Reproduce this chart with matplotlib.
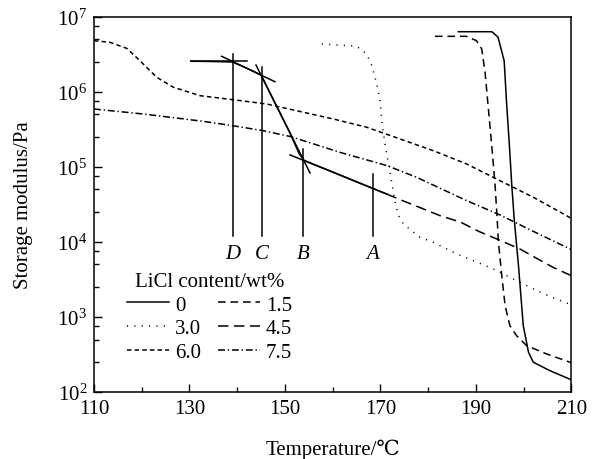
import matplotlib
matplotlib.use("Agg")
import matplotlib.pyplot as plt
from matplotlib.ticker import LogLocator, FixedLocator, NullFormatter
from matplotlib.lines import Line2D

plt.rcParams['font.family'] = ['Liberation Serif', 'DejaVu Serif']
plt.rcParams['mathtext.fontset'] = 'custom'
plt.rcParams['mathtext.rm'] = 'Liberation Serif'
plt.rcParams['mathtext.it'] = 'Liberation Serif:italic'
plt.rcParams['lines.scale_dashes'] = False

# ---------------- data ----------------
T_00 = [186.3, 193.3, 194.6, 195.9, 196.4, 197.0, 197.5, 198.0, 198.9, 199.9, 201.0, 202.0, 205.5, 210.0]
G_00 = [6.31e6, 6.31e6, 5.37e6, 2.59e6, 7.24e5, 1.91e5, 5.62e4, 2.02e4, 4.82e3, 764, 338, 249, 192, 145]

T_15 = [181.4, 188.0, 190.1, 191.2, 191.9, 192.6, 193.3, 194.0, 194.4, 194.7, 195.4, 196.1, 197.1, 198.5, 200.6, 204.8, 210.0]
G_15 = [5.48e6, 5.48e6, 4.79e6, 3.72e6, 1.82e6, 5.89e5, 1.91e5, 5.62e4, 2.24e4, 9.9e3, 3.54e3, 1.41e3, 764, 562, 414, 321, 245]

T_30 = [157.7, 165.0, 167.1, 168.2, 169.2, 169.9, 170.3, 171.0, 172.0, 173.0, 173.7, 174.8, 176.5, 178.3, 181.1,
        186.0, 189.5, 193.6, 197.8, 202.0, 206.0, 210.0]
G_30 = [4.33e6, 4.04e6, 3.18e6, 2.22e6, 1.27e6, 7.94e5, 3.92e5, 1.91e5, 8.45e4, 3.55e4, 2.28e4, 1.73e4, 1.41e4,
        1.15e4, 9.86e3, 6.89e3, 5.61e3, 4.36e3, 3.21e3, 2.36e3, 1.82e3, 1.45e3]

T_45 = [130.25, 133, 136, 139, 141, 143, 145, 147, 149, 151, 153, 154, 156, 160, 165, 170, 171.3,
        174.1, 177, 182.5, 186.7, 190.8, 195, 199.2, 203, 206.1, 210]
G_45 = [2.55e6, 2.54e6, 2.52e6, 2.49e6, 2.20e6, 1.92e6, 1.67e6, 9.25e5, 5.15e5, 2.87e5, 1.48e5, 1.22e5, 1.08e5,
        8.55e4, 6.31e4, 4.68e4, 4.34e4, 3.65e4, 3.09e4, 2.23e4, 1.84e4, 1.36e4, 1.05e4, 8.04e3, 5.89e3, 4.59e3, 3.54e3]
T_45_solid_end = 171.3

T_60 = [110, 113.35, 116.85, 119.63, 123.13, 126.6, 132.2, 139.17, 146.17, 153.14, 160.1, 167.1, 174.1,
        181.06, 188.05, 195.03, 202.0, 209.0, 210]
G_60 = [4.79e6, 4.56e6, 3.79e6, 2.59e6, 1.56e6, 1.15e6, 8.87e5, 7.83e5, 6.87e5, 5.46e5, 4.34e5, 3.37e5, 2.35e5,
        1.64e5, 1.09e5, 6.53e4, 3.93e4, 2.23e4, 2.04e4]

T_75 = [110, 120.26, 127.24, 132.83, 139.1, 145.4, 151.3, 153.1, 161.5, 171.3, 177.6, 183.15, 188.05, 195.0, 202.0, 210]
G_75 = [5.89e5, 5.06e5, 4.47e5, 4.04e5, 3.53e5, 3.03e5, 2.52e5, 2.31e5, 1.56e5, 1.04e5, 7.24e4, 4.95e4,
        3.54e4, 2.29e4, 1.38e4, 7.87e3]

# tangent construction (annotation)
tan_T = [(130.25, 142.0), (136.74, 147.9), (143.93, 155.24), (151.05, 171.3)]
tan_G = [(2.55e6, 2.55e6), (2.97e6, 1.36e6), (2.27e6, 8.28e4), (1.44e5, 4.34e4)]
mark_T = [139.17, 145.12, 153.83, 168.37]
mark_top = [3.18e6, 2.12e6, 1.73e5, 8.0e4]
mark_bottom = 1.21e4
mark_labels = ['D', 'C', 'B', 'A']
mark_label_G = 7.0e3

legend_title = 'LiCl content/wt%'
labels = ['0', '1.5', '3.0', '4.5', '6.0', '7.5']
xticks = [110, 130, 150, 170, 190, 210]
xminor = [120, 140, 160, 180, 200]

# ---------------- styles ----------------
FS = 15
lw = 1.1
ls = {
    '0': '-',
    '1.5': (0, (5.5, 3.5)),
    '3.0': (0, (0.8, 4.5)),
    '4.5': (0, (7.5, 4.0)),
    '6.0': (0, (3.2, 2.3)),
    '7.5': (0, (5.0, 2.0, 1.0, 2.0)),
}

fig = plt.figure(figsize=(6.01, 4.60), dpi=100)
ax = fig.add_axes([0.1564, 0.1457, 0.9509 - 0.1564, 0.9615 - 0.1457])
ax.set_yscale('log')

k = 'k'
ax.plot(T_00, G_00, color=k, lw=lw, ls=ls['0'])
ax.plot(T_15, G_15, color=k, lw=lw, ls=ls['1.5'])
ax.plot(T_30, G_30, color=k, lw=lw, ls=ls['3.0'])
# 4.5: solid where tangents are drawn, dashed after
Ts = [t for t in T_45 if t <= T_45_solid_end]
Gs = G_45[:len(Ts)]
ax.plot(Ts, Gs, color=k, lw=lw, ls='-')
ax.plot(T_45[len(Ts) - 1:], G_45[len(Ts) - 1:], color=k, lw=lw, ls=ls['4.5'])
ax.plot(T_60, G_60, color=k, lw=lw, ls=ls['6.0'])
ax.plot(T_75, G_75, color=k, lw=lw, ls=ls['7.5'])

for tt, gg in zip(tan_T, tan_G):
    ax.plot(tt, gg, color=k, lw=lw)
for t, top, lab in zip(mark_T, mark_top, mark_labels):
    ax.plot([t, t], [mark_bottom, top], color=k, lw=lw)
    ax.text(t, mark_label_G, lab, ha='center', va='center', fontsize=FS, style='italic')

ax.set_xlim(110, 210)
ax.set_ylim(1e2, 1e7)
ax.xaxis.set_major_locator(FixedLocator(xticks))
ax.xaxis.set_minor_locator(FixedLocator(xminor))
ax.yaxis.set_major_locator(LogLocator(base=10, numticks=10))
ax.yaxis.set_minor_locator(LogLocator(base=10, subs=[2.5, 5.0, 7.5], numticks=20))
ax.yaxis.set_minor_formatter(NullFormatter())
ax.tick_params(which='both', direction='in', top=False, right=False, labelsize=FS, width=1.0)
ax.tick_params(which='major', length=6, pad=5)
ax.tick_params(which='minor', length=3.5)
for s in ax.spines.values():
    s.set_linewidth(1.1)

ax.set_xlabel('Temperature/\u2103', fontsize=FS, labelpad=15)
ax.set_ylabel('Storage modulus/Pa', fontsize=FS, labelpad=17)

handles = [Line2D([], [], color=k, lw=lw, ls=ls[l]) for l in labels]
order = [0, 2, 4, 1, 3, 5]
leg = ax.legend([handles[i] for i in order], [labels[i] for i in order], title=legend_title,
                ncol=2, frameon=False, fontsize=FS, title_fontsize=FS,
                loc='upper left', bbox_to_anchor=(0.07, 0.32), borderpad=0,
                handlelength=2.0, handletextpad=0.3, columnspacing=0.8, labelspacing=0.2,
                borderaxespad=0)
leg._legend_box.align = 'center'

fig.savefig('out.png', dpi=100)
